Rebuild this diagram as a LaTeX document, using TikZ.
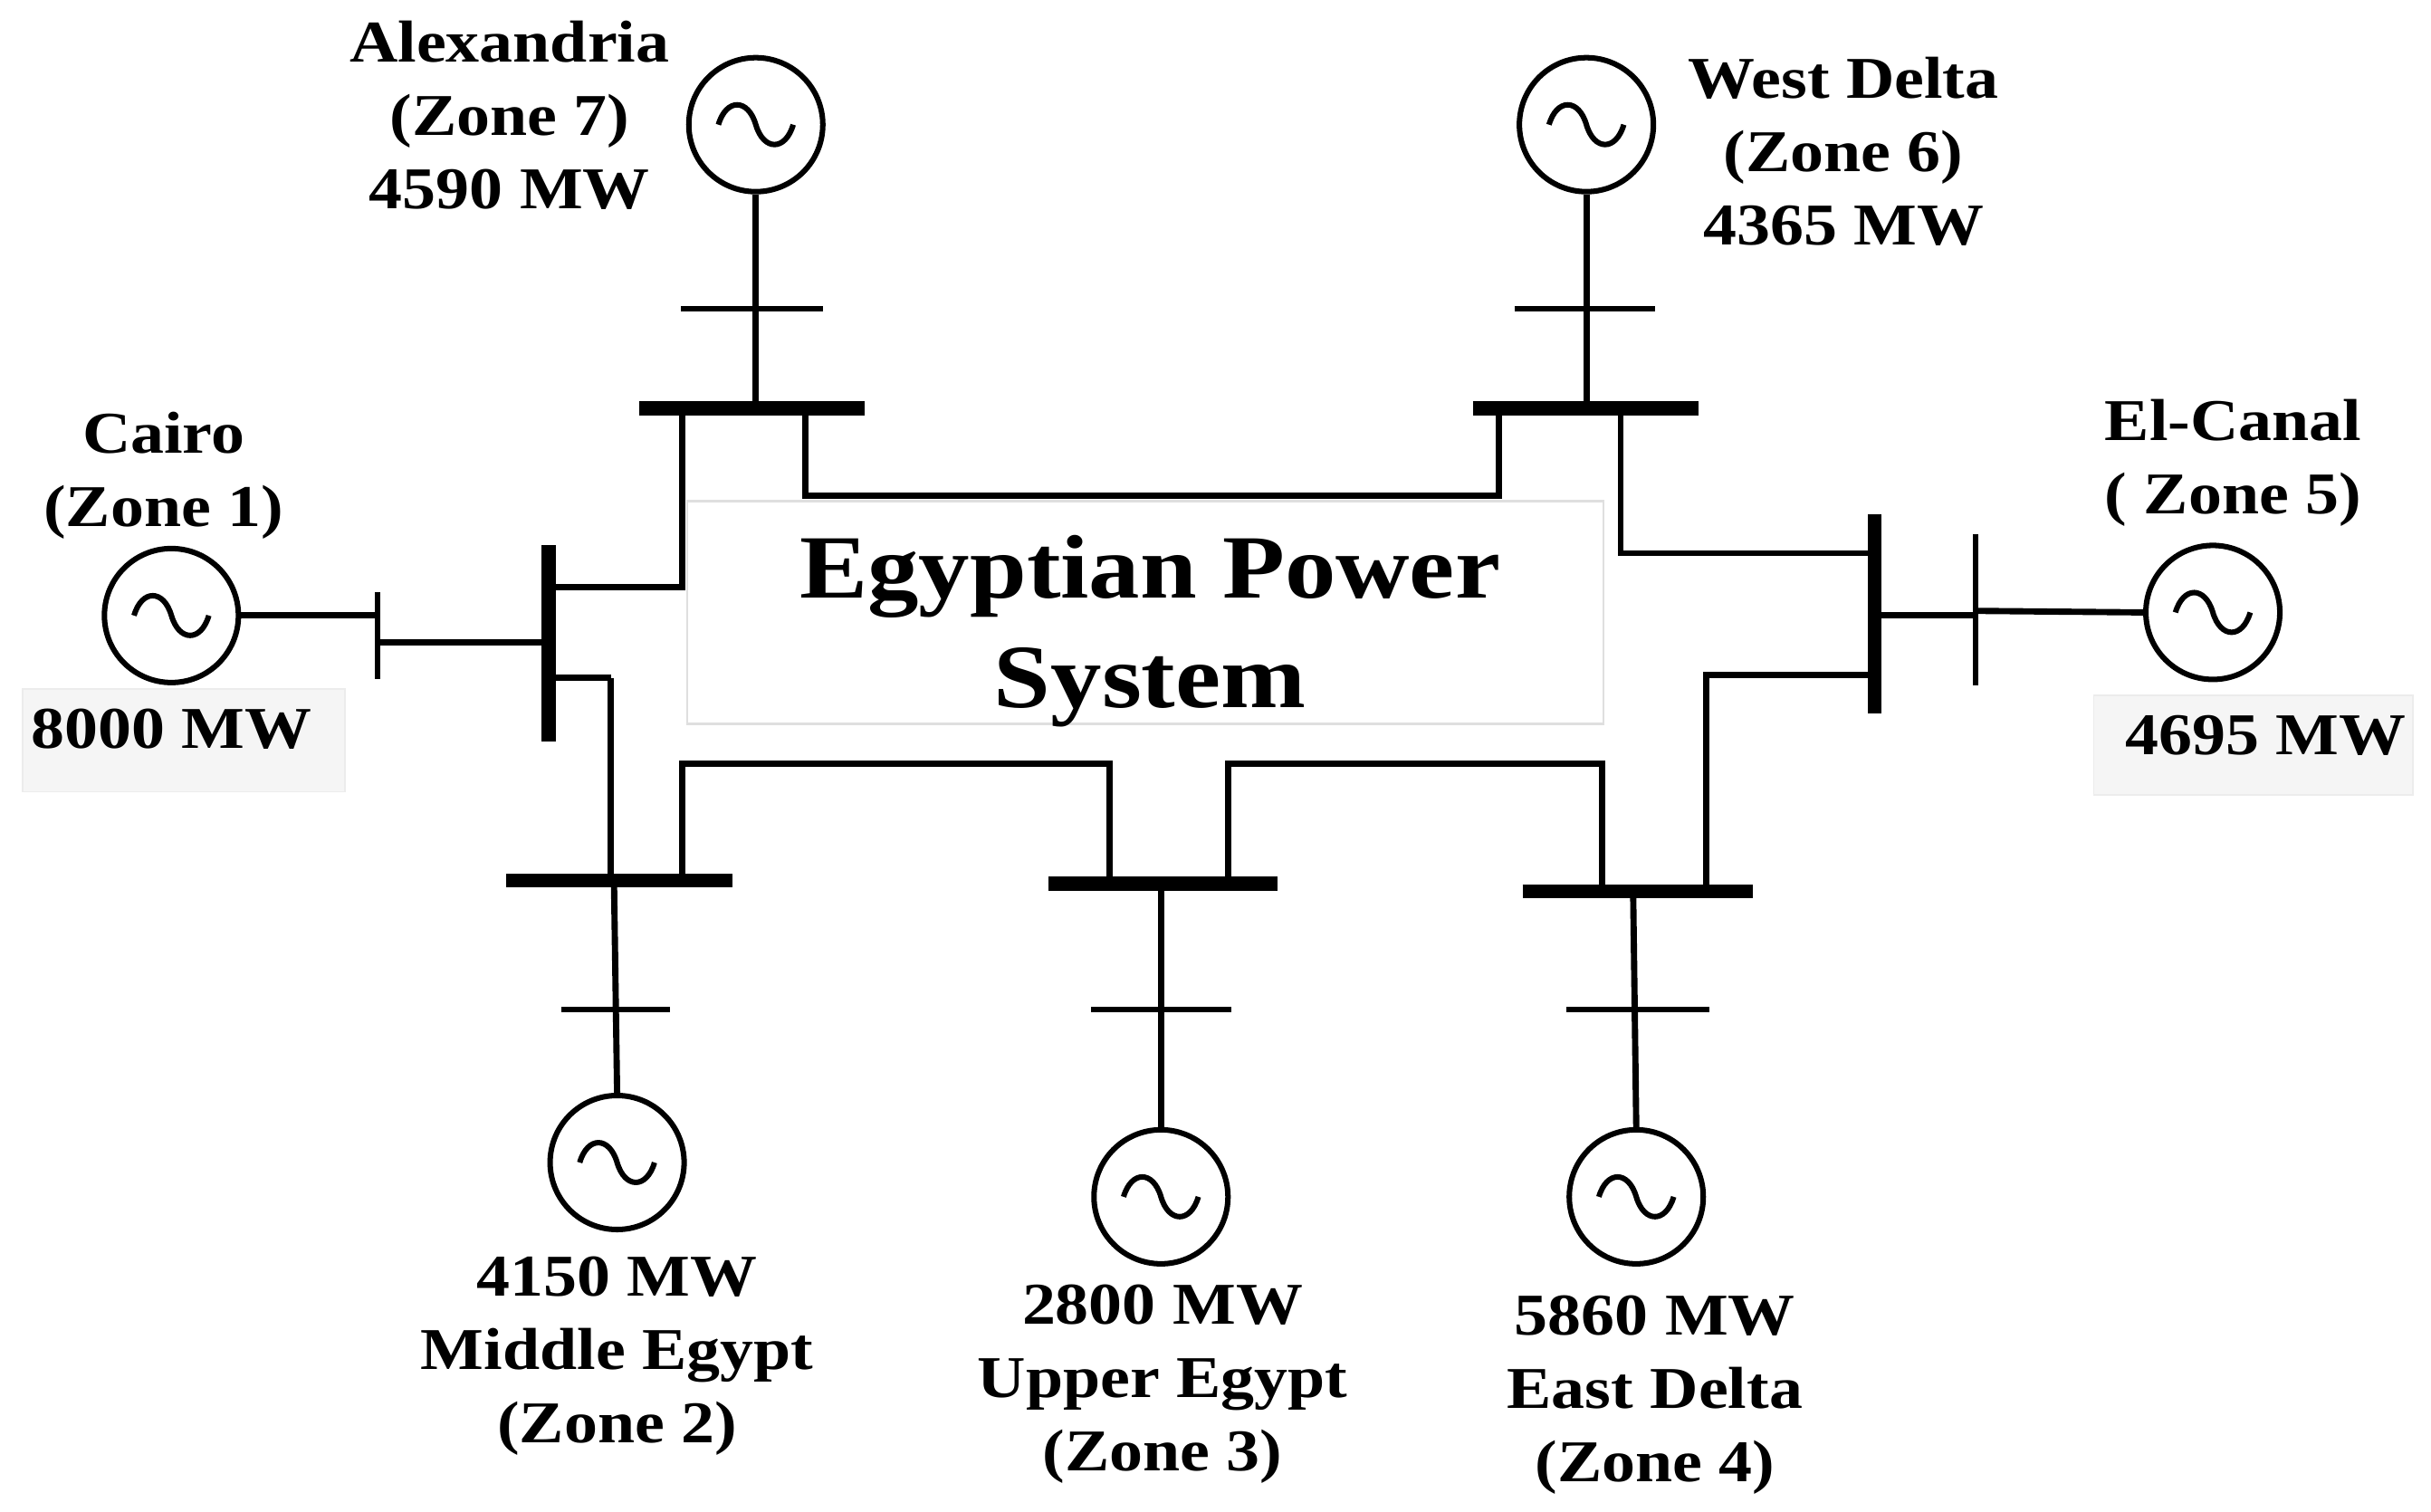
\documentclass[tikz,border=0pt]{standalone}
\usepackage{fontspec}
\setmainfont{Liberation Serif}[FakeStretch=1.13]
\begin{document}
\begin{tikzpicture}[x=1pt,y=-1pt,
 ln/.style={line width=4pt},
 bus/.style={line width=9pt},
 tb/.style={line width=3.5pt},
 gen/.style={circle,draw,line width=3.5pt,minimum size=86pt,inner sep=0pt},
 lbl/.style={font=\fontsize{38}{47}\selectfont\bfseries,align=center},
 gbox/.style={fill=gray!8,draw=gray!15,line width=1pt}]
\useasboundingbox (0,0) rectangle (1560,970);
% center box
\node[draw=gray!25,line width=1.5pt,minimum width=588pt,minimum height=143pt] (cbox) at (735,393) {};
\node[font=\fontsize{58}{70}\selectfont\bfseries,align=center] (ctext) at (738,405) {Egyptian Power\\System};
\newcommand\sinus[1]{\draw[line width=3.5pt] ([xshift=-24pt]#1) .. controls ([xshift=-19pt,yshift=17pt]#1) and ([xshift=-5pt,yshift=17pt]#1) .. (#1) .. controls ([xshift=5pt,yshift=-17pt]#1) and ([xshift=19pt,yshift=-17pt]#1) .. ([xshift=24pt]#1);}
\node[gen] (g1) at (110,395) {}; \sinus{g1.center}
\node[gen] (g7) at (485,80) {}; \sinus{g7.center}
\node[gen] (g6) at (1018,80) {}; \sinus{g6.center}
\node[gen] (g5) at (1420,393) {}; \sinus{g5.center}
\node[gen] (g2) at (396,746) {}; \sinus{g2.center}
\node[gen] (g3) at (745,768) {}; \sinus{g3.center}
\node[gen] (g4) at (1050,768) {}; \sinus{g4.center}
% Cairo
\draw[tb] (242,380) coordinate (t1a) -- (242,436) coordinate (t1b);
\draw[bus] (352,350) coordinate (b1a) -- (352,476) coordinate (b1b);
\draw[ln] (g1.east) -- (242,395);
\draw[ln] (242,412) -- (352,412);
% Alexandria
\draw[bus] (410,262) coordinate (b7a) -- (555,262) coordinate (b7b);
\draw[tb] (437,198) coordinate (t7a) -- (528,198) coordinate (t7b);
\draw[ln] (g7.south) -- (485,262);
\draw[ln] (352,377) -- (438,377) -- (438,262);
\draw[ln] (517,262) -- (517,318) -- (962,318) -- (962,262);
% West Delta
\draw[bus] (945,262) coordinate (b6a) -- (1090,262) coordinate (b6b);
\draw[tb] (972,198) coordinate (t6a) -- (1062,198) coordinate (t6b);
\draw[ln] (g6.south) -- (1018,262);
\draw[ln] (1040,262) -- (1040,355) -- (1203,355);
% El-Canal
\draw[bus] (1203,330) coordinate (b5a) -- (1203,458) coordinate (b5b);
\draw[tb] (1268,343) coordinate (t5a) -- (1268,440) coordinate (t5b);
\draw[ln] (1203,395) -- (1268,395);
\draw[ln] (1268,392) -- (g5.west);
\draw[ln] (1203,433) -- (1095,433) -- (1095,572);
% Middle Egypt
\draw[bus] (325,565) coordinate (b2a) -- (470,565) coordinate (b2b);
\draw[tb] (360,648) coordinate (t2a) -- (430,648) coordinate (t2b);
\draw[ln] (392,435) -- (352,435);
\draw[ln] (392,435) -- (392,565);
\draw[ln] (394,565) -- (g2.north);
\draw[ln] (438,565) -- (438,490) -- (712,490) -- (712,567);
% Upper Egypt
\draw[bus] (673,567) coordinate (b3a) -- (820,567) coordinate (b3b);
\draw[tb] (700,648) coordinate (t3a) -- (790,648) coordinate (t3b);
\draw[ln] (745,567) -- (g3.north);
\draw[ln] (788,567) -- (788,490) -- (1028,490) -- (1028,572);
% East Delta
\draw[bus] (977,572) coordinate (b4a) -- (1125,572) coordinate (b4b);
\draw[tb] (1005,648) coordinate (t4a) -- (1097,648) coordinate (t4b);
\draw[ln] (1048,572) -- (g4.north);
% labels
\node[lbl] (l7) at (327,74) {Alexandria\\(Zone 7)\\4590 MW};
\node[lbl] (l6) at (1183,97) {West Delta\\(Zone 6)\\4365 MW};
\node[lbl] (l1) at (105,305) {Cairo\\(Zone 1)};
\node[lbl] (l5) at (1433,297) {El-Canal\\( Zone 5)};
\node[gbox,minimum width=207pt,minimum height=66pt] (bx1) at (118,475) {};
\node[lbl] (m1) at (110,468) {8000 MW};
\node[gbox,minimum width=205pt,minimum height=64pt] (bx5) at (1446,478) {};
\node[lbl] (m5) at (1454,472) {4695 MW};
\node[lbl] (l2) at (396,870) {4150 MW\\Middle Egypt\\(Zone 2)};
\node[lbl] (l3) at (746,888) {2800 MW\\Upper Egypt\\(Zone 3)};
\node[lbl] (l4) at (1062,895) {5860 MW\\East Delta\\(Zone 4)};
\end{tikzpicture}
\end{document}
